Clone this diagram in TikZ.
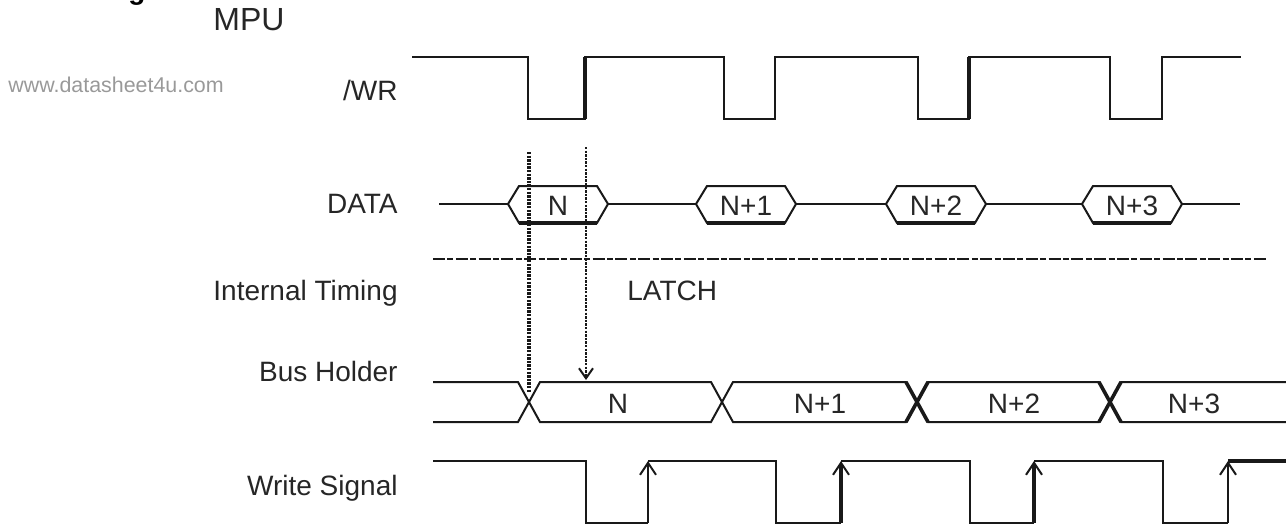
\documentclass[tikz,border=0pt]{standalone}
\usepackage{fontspec}
\setmainfont{Liberation Sans}
\usepackage{tikz}
\usetikzlibrary{arrows.meta}

\begin{document}
\begin{tikzpicture}[
    x=0.5pt, y=-0.5pt,
    every node/.style={inner sep=0pt},
    wave/.style={line width=1pt, color=black!90},
    boldedge/.style={line width=1.8pt, color=black!90},
    signame/.style={anchor=base east, font=\fontsize{14}{16}\selectfont, text=black!85},
    val/.style={anchor=base, font=\fontsize{14}{16}\selectfont, text=black!85},
    rise/.style={line width=#1, color=black!90, -{Straight Barb[length=6pt, width=8pt, line width=1pt]}},
    probe/.style={line width=#1, color=black!90, dash pattern=on 1.2pt off 0.6pt},
]
\useasboundingbox (0,0) rectangle (1286,527);

\begin{scope}
\clip (0,0) rectangle (1286,527);
\node[anchor=base, font=\bfseries\fontsize{14}{16}\selectfont] (frag) at (137,-1) {g};
\end{scope}

\node[anchor=base west, font=\fontsize{16}{18}\selectfont, text=black!85] (mpu) at (213,30) {MPU};
\node[anchor=base west, font=\fontsize{10.7}{12}\selectfont, text=black!40] (wm) at (8,92) {www.datasheet4u.com};

\node[signame] (lwr)  at (398,100) {/WR};
\node[signame] (ldat) at (398,213) {DATA};
\node[signame] (lint) at (398,300) {Internal Timing};
\node[signame] (lbus) at (398,381) {Bus Holder};
\node[signame] (lwrs) at (398,495) {Write Signal};

% /WR
\draw[wave] (412,57) -- (528,57) -- (528,119) -- (585,119) -- (585,57) -- (724,57) -- (724,119)
    -- (775,119) -- (775,57) -- (918,57) -- (918,119) -- (969,119) -- (969,57) -- (1110,57)
    -- (1110,119) -- (1162,119) -- (1162,57) -- (1241,57);
\draw[boldedge] (585,119) -- (585,57) (969,119) -- (969,57);

% DATA
\draw[wave] (439,204) -- (508,204) (608,204) -- (696,204) (796,204) -- (886,204)
    (986,204) -- (1082,204) (1182,204) -- (1240,204);
\foreach \x/\t [count=\i] in {508/N, 696/N+1, 886/N+2, 1082/N+3} {
  \draw[wave] (\x,204) -- (\x+11,186) -- (\x+89,186) -- (\x+100,204) -- (\x+89,223) -- (\x+11,223) -- cycle;
  \draw[boldedge] (\x+11,223) -- (\x+89,223);
  \node[val] (d\i) at (\x+50,215) {\t};
}

% internal timing
\coordinate (itl) at (433,259);
\coordinate (itr) at (1268,259);
\draw[line width=0.6pt, color=black!90, dash pattern=on 6pt off 1.2pt on 3pt off 1.2pt] (itl) -- (itr);
\node[anchor=base west, font=\fontsize{14}{16}\selectfont, text=black!85] (latch) at (627,300) {LATCH};

% Bus Holder
\draw[wave] (433,382) -- (518,382) -- (540,422) -- (711,422) -- (733,382) -- (906,382)
    -- (928,422) -- (1099,422) -- (1121,382) -- (1286,382);
\draw[wave] (433,422) -- (518,422) -- (540,382) -- (711,382) -- (733,422) -- (906,422)
    -- (928,382) -- (1099,382) -- (1121,422) -- (1286,422);
\foreach \c in {917,1110}
  \draw[boldedge] (\c-11,382) -- (\c+11,422) (\c-11,422) -- (\c+11,382);
\node[val] (b1) at (618,413) {N};
\node[val] (b2) at (820,413) {N+1};
\node[val] (b3) at (1014,413) {N+2};
\node[val] (b4) at (1194,413) {N+3};

% probes
\coordinate (pa) at (529,152);
\coordinate (qa) at (529,393);
\coordinate (pb) at (586,147);
\coordinate (qb) at (586,380);
\draw[probe=1.6pt] (pa) -- (qa);
\draw[probe=0.8pt, -{Straight Barb[length=5pt, width=7pt, line width=1pt]}] (pb) -- (qb);

% Write Signal
\draw[wave] (433,461) -- (586,461) -- (586,523) -- (648,523);
\draw[wave] (648,461) -- (776,461) -- (776,523) -- (841,523);
\draw[wave] (841,461) -- (970,461) -- (970,523) -- (1034,523);
\draw[wave] (1034,461) -- (1163,461) -- (1163,523) -- (1228,523);
\draw[boldedge] (1228,461) -- (1286,461);
\draw[rise=1pt] (648,523) -- (648,461);
\draw[rise=1.8pt] (841,523) -- (841,461);
\draw[rise=1.8pt] (1034,523) -- (1034,461);
\draw[rise=1pt] (1228,523) -- (1228,461);
\end{tikzpicture}
\end{document}
